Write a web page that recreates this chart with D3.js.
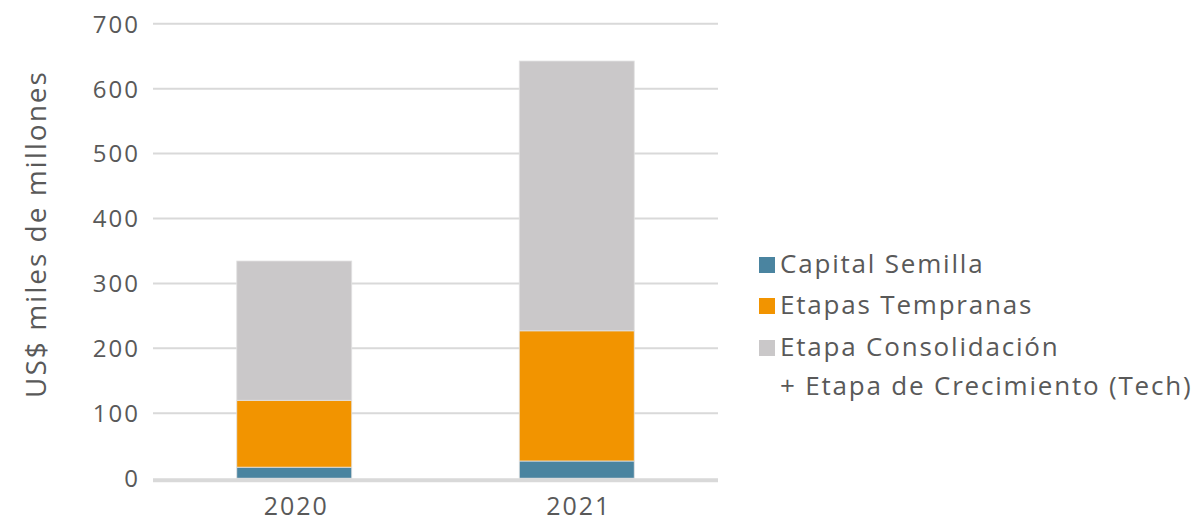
<!DOCTYPE html>
<html><head><meta charset="utf-8">
<script src="https://cdn.jsdelivr.net/npm/d3@7/dist/d3.min.js"></script>
<style>body{margin:0;background:#fff;} svg{display:block;font-family:"Open Sans",sans-serif;}</style>
</head><body>
<svg id="c" width="1201" height="523"></svg>
<script>
const categories = ["2020", "2021"];
const seriesNames = ["Capital Semilla", "Etapas Tempranas", "Etapa Consolidación + Etapa de Crecimiento (Tech)"];
const capitalSemilla = [17, 26.5];
const etapasTempranas = [103, 200.5];
const etapaConsolidacion = [214.5, 415.5];
const yTicks = [0, 100, 200, 300, 400, 500, 600, 700];
const colors = ["#4a84a0", "#f29400", "#cac8c9"];

const rows = categories.map((c, i) => ({cat: c, s0: capitalSemilla[i], s1: etapasTempranas[i], s2: etapaConsolidacion[i]}));
const stack = d3.stack().keys(["s0", "s1", "s2"])(rows);

const svg = d3.select("#c");
const x = d3.scaleBand().domain(categories).range([153, 718]).paddingInner(0.593).paddingOuter(0.2965);
const y = d3.scaleLinear().domain([0, 700]).range([478.2, 23.7]);

// gridlines
svg.append("g").selectAll("line").data(yTicks.filter(t => t > 0)).join("line")
  .attr("x1", 153).attr("x2", 718).attr("y1", d => y(d)).attr("y2", d => y(d))
  .attr("stroke", "#d9d9d9").attr("stroke-width", 2);

// y axis labels
const yAxis = d3.axisLeft(y).tickValues(yTicks).tickSize(0).tickPadding(0);
const yg = svg.append("g").attr("transform", "translate(140,0)").call(yAxis);
yg.select(".domain").remove();
yg.selectAll("text").attr("font-size", 24).attr("letter-spacing", 2).attr("fill", "#595959").attr("font-family", "Open Sans").attr("dy", "0.35em");

// bars
svg.append("g").selectAll("g").data(stack).join("g")
  .attr("fill", (d, i) => colors[i])
  .selectAll("rect").data(d => d).join("rect")
  .attr("x", d => x(d.data.cat)).attr("width", x.bandwidth())
  .attr("y", d => y(d[1])).attr("height", d => y(d[0]) - y(d[1]))
  .attr("stroke", "#e2e2e2").attr("stroke-width", 0.8);

// zero axis line
svg.append("line").attr("x1", 153).attr("x2", 718).attr("y1", y(0) + 2).attr("y2", y(0) + 2)
  .attr("stroke", "#d9d9d9").attr("stroke-width", 4);

// x axis labels
const xAxis = d3.axisBottom(x).tickSize(0).tickPadding(0);
const xg = svg.append("g").attr("transform", "translate(2,515)").call(xAxis);
xg.select(".domain").remove();
xg.selectAll("text").attr("font-size", 25).attr("letter-spacing", 2).attr("fill", "#595959").attr("font-family", "Open Sans").attr("dy", "0");

// y title
svg.append("text").attr("transform", "translate(46,234) rotate(-90)")
  .attr("text-anchor", "middle").attr("font-size", 28).attr("letter-spacing", 2).attr("fill", "#595959")
  .text("US$ miles de millones");

// legend
const leg = svg.append("g");
const legY = [265, 306, 348];
seriesNames.forEach((n, i) => {
  leg.append("rect").attr("x", 759).attr("y", legY[i] - 8).attr("width", 16).attr("height", 16).attr("fill", colors[i]);
});
const legLines = [["Capital Semilla"], ["Etapas Tempranas"], ["Etapa Consolidación", "+ Etapa de Crecimiento (Tech)"]];
legLines.forEach((lines, i) => {
  lines.forEach((t, j) => {
    leg.append("text").attr("x", 780).attr("y", legY[i] + 8 + j * 39)
      .attr("font-size", 26).attr("letter-spacing", 1.8).attr("fill", "#595959").text(t);
  });
});
</script>
</body></html>
